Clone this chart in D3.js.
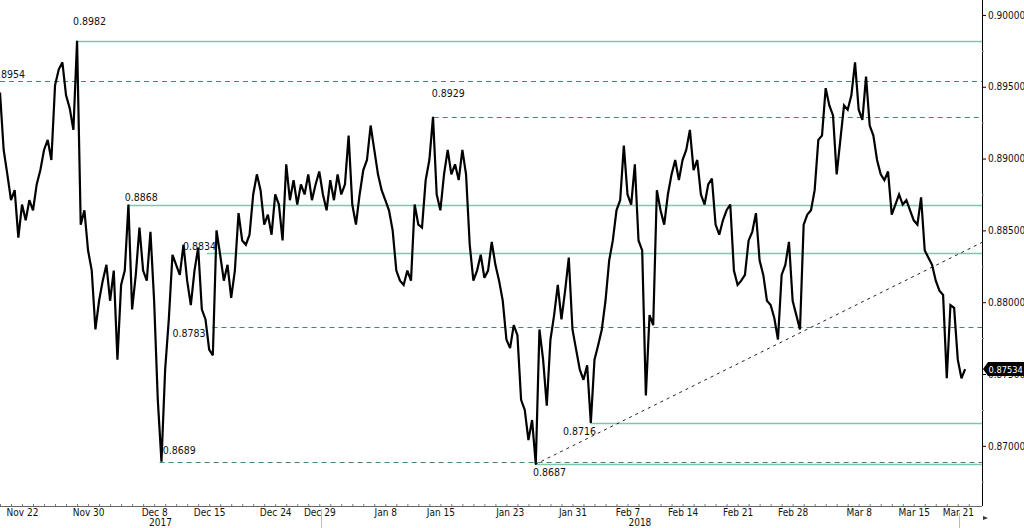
<!DOCTYPE html>
<html>
<head>
<meta charset="utf-8">
<script src="https://cdn.jsdelivr.net/npm/d3@7"></script>
<style>
  html, body { margin: 0; padding: 0; background: #fff; }
  svg { display: block; }
  text { font-family: "DejaVu Sans Condensed", "DejaVu Sans", sans-serif; }
</style>
</head>
<body>
<svg id="chart" width="1024" height="528"></svg>
<script>
// intraday fixes, 3 per trading day, starting Nov 20 2017
var fixes = [
  0.8946, 0.8906, 0.8889, 0.8871, 0.8878, 0.8845, 0.8868, 0.8857, 0.8871, 0.8864,
  0.8882, 0.8892, 0.8906, 0.8913, 0.8899, 0.8951, 0.8962, 0.8967, 0.8944, 0.8935,
  0.8920, 0.8982, 0.8854, 0.8864, 0.8836, 0.8822, 0.8781, 0.8801, 0.8815, 0.8826,
  0.8801, 0.8822, 0.8760, 0.8812, 0.8822, 0.8868, 0.8795, 0.8819, 0.8852, 0.8822,
  0.8815, 0.8849, 0.8801, 0.8732, 0.8689, 0.8753, 0.8788, 0.8833, 0.8826, 0.8819,
  0.8840, 0.8815, 0.8798, 0.8822, 0.8838, 0.8795, 0.8788, 0.8767, 0.8763, 0.8850,
  0.8833, 0.8815, 0.8826, 0.8803, 0.8822, 0.8862, 0.8843, 0.8840, 0.8847, 0.8875,
  0.8889, 0.8878, 0.8854, 0.8861, 0.8847, 0.8875, 0.8868, 0.8843, 0.8896, 0.8871,
  0.8885, 0.8868, 0.8882, 0.8875, 0.8889, 0.8871, 0.8882, 0.8891, 0.8875, 0.8864,
  0.8885, 0.8871, 0.8889, 0.8875, 0.8882, 0.8916, 0.8868, 0.8854, 0.8875, 0.8892,
  0.8899, 0.8923, 0.8906, 0.8889, 0.8878, 0.8871, 0.8864, 0.8850, 0.8822, 0.8815,
  0.8812, 0.8822, 0.8815, 0.8868, 0.8854, 0.8852, 0.8885, 0.8899, 0.8929, 0.8875,
  0.8864, 0.8889, 0.8906, 0.8889, 0.8896, 0.8885, 0.8906, 0.8889, 0.8840, 0.8815,
  0.8822, 0.8833, 0.8817, 0.8822, 0.8842, 0.8826, 0.8815, 0.8801, 0.8774, 0.8768,
  0.8784, 0.8777, 0.8732, 0.8725, 0.8704, 0.8718, 0.8687, 0.8781, 0.8760, 0.8728,
  0.8774, 0.8791, 0.8812, 0.8788, 0.8808, 0.8831, 0.8781, 0.8767, 0.8753, 0.8746,
  0.8756, 0.8716, 0.8760, 0.8770, 0.8781, 0.8801, 0.8829, 0.8843, 0.8864, 0.8871,
  0.8909, 0.8875, 0.8868, 0.8896, 0.8843, 0.8836, 0.8735, 0.8791, 0.8784, 0.8878,
  0.8864, 0.8854, 0.8875, 0.8889, 0.8899, 0.8885, 0.8899, 0.8906, 0.8920, 0.8892,
  0.8899, 0.8875, 0.8868, 0.8882, 0.8886, 0.8854, 0.8847, 0.8857, 0.8864, 0.8868,
  0.8822, 0.8812, 0.8815, 0.8819, 0.8843, 0.8849, 0.8862, 0.8829, 0.8819, 0.8801,
  0.8798, 0.8789, 0.8774, 0.8819, 0.8826, 0.8842, 0.8801, 0.8791, 0.8781, 0.8854,
  0.8861, 0.8864, 0.8878, 0.8913, 0.8916, 0.8949, 0.8937, 0.8930, 0.8889, 0.8913,
  0.8937, 0.8934, 0.8944, 0.8967, 0.8934, 0.8927, 0.8957, 0.8923, 0.8916, 0.8899,
  0.8889, 0.8885, 0.8891, 0.8861, 0.8868, 0.8875, 0.8868, 0.8871, 0.8864, 0.8857,
  0.8854, 0.8873, 0.8836, 0.8831, 0.8826, 0.8815, 0.8808, 0.8805, 0.8747, 0.8798,
  0.8796, 0.8760, 0.8747, 0.87534
];
var fixesPerDay = 3;
var lastPrice = 0.87534;

// date axis, positions in trading days from the first fix
var tickDays   = [2, 8, 14, 19, 25, 29, 35, 40, 46.3, 52, 57, 62, 67, 72, 78, 83, 87];
var tickLabels = ["Nov 22", "Nov 30", "Dec 8", "Dec 15", "Dec 24", "Dec 29", "Jan 8", "Jan 15",
                  "Jan 23", "Jan 31", "Feb 7", "Feb 14", "Feb 21", "Feb 28", "Mar 8", "Mar 15", "Mar 21"];
var yearBreaks = [29.15, 87.1];
var yearLabels = ["2017", "2018"];

// price axis
var priceTicks = [0.870, 0.875, 0.880, 0.885, 0.890, 0.895, 0.900];
var priceMinor = [0.8675, 0.8725, 0.8775, 0.8825, 0.8875, 0.8925, 0.8975];

// support / resistance levels
var solidLevels  = [0.8982, 0.8868, 0.8834, 0.8716, 0.8687];
var solidStarts  = [6.9, 11.6, 18.8, 53.6, 48.6];
var dashedLevels = [0.8954, 0.8929, 0.8783, 0.8689];
var dashedStarts = [0, 39.4, 19.3, 14.5];

// trend line from the Jan low
var trendDays   = [48.6, 89.2];
var trendPrices = [0.8687, 0.88416];

var svg = d3.select("#chart");
var width = 1024, height = 528;
var plotRight = 982, plotBottom = 506;

var x = d3.scaleLinear().domain([0, 89.2]).range([0, plotRight]);
var y = d3.scaleLinear().domain([0.86581, 0.90104]).range([plotBottom, 0]);

svg.append("rect").attr("width", width).attr("height", height).attr("fill", "#fff");

svg.append("defs").append("clipPath").attr("id", "plotClip")
  .append("rect").attr("width", plotRight).attr("height", plotBottom);

var plot = svg.append("g").attr("clip-path", "url(#plotClip)");

// level lines
function drawLevels(values, starts, dashed) {
  plot.selectAll(null)
    .data(values).enter().append("line")
      .attr("x1", function(d, i) { return x(starts[i]); })
      .attr("x2", x(89.2))
      .attr("y1", function(d) { return Math.round(y(d)) + 0.5; })
      .attr("y2", function(d) { return Math.round(y(d)) + 0.5; })
      .attr("stroke", dashed ? "#3f8a72" : "#7cc8aa")
      .attr("stroke-width", dashed ? 1 : 1.3)
      .attr("stroke-dasharray", dashed ? "5,4" : null);
}
drawLevels(solidLevels, solidStarts, false);
drawLevels(dashedLevels, dashedStarts, true);

// trend line
plot.append("line")
  .attr("x1", x(trendDays[0])).attr("y1", y(trendPrices[0]))
  .attr("x2", x(trendDays[1])).attr("y2", y(trendPrices[1]))
  .attr("stroke", "#222")
  .attr("stroke-width", 1)
  .attr("stroke-dasharray", "3,4");

// price line
var line = d3.line()
  .x(function(d, i) { return x(i / fixesPerDay); })
  .y(function(d) { return y(d); });

plot.append("path")
  .datum(fixes)
  .attr("d", line)
  .attr("fill", "none")
  .attr("stroke", "#000")
  .attr("stroke-width", 2.2)
  .attr("stroke-linejoin", "miter")
  .attr("stroke-miterlimit", 3);

// level labels (offsets from the line start)
var labelOffsets = {
  "0.8982": [-3, -16], "0.8954": [-8, -3], "0.8929": [-2, -20],
  "0.8868": [-3, -4],  "0.8834": [-24, -3], "0.8783": [-40, 10],
  "0.8716": [-27, 12], "0.8689": [3, -8],   "0.8687": [-2, 12]
};
var allLevels = solidLevels.concat(dashedLevels);
var allStarts = solidStarts.concat(dashedStarts);
svg.selectAll("text.level")
  .data(allLevels).enter().append("text")
    .attr("class", "level")
    .attr("x", function(d, i) { return x(allStarts[i]) + labelOffsets[d3.format(".4f")(d)][0]; })
    .attr("y", function(d) { return y(d) + labelOffsets[d3.format(".4f")(d)][1]; })
    .attr("font-size", 10.5)
    .attr("fill", "#111")
    .text(function(d) { return d3.format(".4f")(d); });

// right axis
var yAxis = svg.append("g")
  .attr("transform", "translate(" + plotRight + ",0)")
  .call(d3.axisRight(y).tickValues(priceTicks).tickSize(4).tickPadding(2).tickFormat(d3.format(".5f")));
yAxis.select(".domain").attr("stroke", "#000").attr("d", "M0.5,0V" + plotBottom);
yAxis.selectAll("text").attr("font-size", 10).attr("fill", "#111")
  .attr("font-family", "DejaVu Sans Condensed, DejaVu Sans, sans-serif");

svg.append("g")
  .attr("transform", "translate(" + plotRight + ",0)")
  .call(d3.axisRight(y).tickValues(priceMinor).tickSize(2).tickFormat(""))
  .call(function(g) { g.select(".domain").remove(); })
  .selectAll("line").attr("stroke", "#999");

// bottom axis
var xAxis = svg.append("g")
  .attr("transform", "translate(0," + plotBottom + ")")
  .call(d3.axisBottom(x).tickValues(tickDays).tickSize(0).tickPadding(3)
    .tickFormat(function(d, i) { return tickLabels[i]; }));
xAxis.select(".domain").attr("stroke", "#666").attr("d", "M0,0.5H" + plotRight);
xAxis.selectAll("text").attr("font-size", 10).attr("fill", "#111")
  .attr("font-family", "DejaVu Sans Condensed, DejaVu Sans, sans-serif");

svg.append("g")
  .attr("transform", "translate(0," + plotBottom + ")")
  .call(d3.axisBottom(x).tickValues(d3.range(0, 89, 1)).tickSize(-2).tickFormat(""))
  .call(function(g) { g.select(".domain").remove(); })
  .selectAll("line").attr("stroke", "#777");

// year separators and labels
svg.selectAll("line.yearBreak")
  .data(yearBreaks).enter().append("line")
    .attr("class", "yearBreak")
    .attr("x1", function(d) { return Math.round(x(d)) + 0.5; })
    .attr("x2", function(d) { return Math.round(x(d)) + 0.5; })
    .attr("y1", function(d, i) { return i === 0 ? 509 : 513; })
    .attr("y2", height)
    .attr("stroke", "#bbb");

svg.selectAll("text.year")
  .data(yearLabels).enter().append("text")
    .attr("class", "year")
    .attr("x", function(d, i) { return ((i === 0 ? 0 : x(yearBreaks[0])) + x(yearBreaks[i])) / 2; })
    .attr("y", 526)
    .attr("text-anchor", "middle")
    .attr("font-size", 10)
    .attr("fill", "#111")
    .text(function(d) { return d; });

// small scroll arrow
svg.append("path")
  .attr("d", "M983,516L988,518L983,520Z")
  .attr("fill", "#333");

// last price marker
var ly = y(lastPrice);
var tag = svg.append("g").attr("transform", "translate(" + (plotRight + 1) + "," + ly + ")");
tag.append("path")
  .attr("d", "M0,0L5,-7H41V7H5Z")
  .attr("fill", "#000");
tag.append("text")
  .attr("x", 5.5)
  .attr("y", 3.5)
  .attr("font-size", 9.2)
  .attr("fill", "#fff")
  .text(d3.format(".5f")(lastPrice));
</script>
</body>
</html>
